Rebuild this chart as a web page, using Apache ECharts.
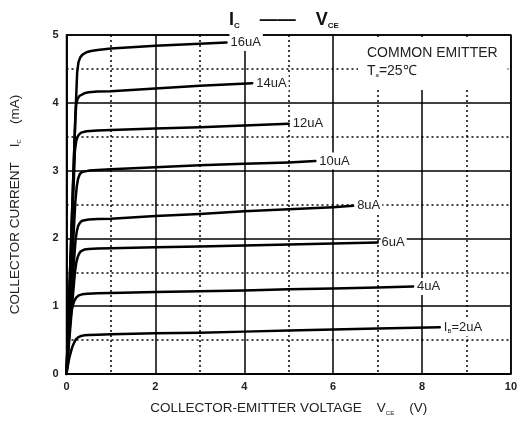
<!DOCTYPE html>
<html><head><meta charset="utf-8">
<script src="https://cdn.jsdelivr.net/npm/echarts@6/dist/echarts.min.js"></script>
<style>html,body{margin:0;padding:0;background:#fff}#c{width:520px;height:421px}</style>
</head><body><div id="c"></div>
<script>
// V_CE (V), I_C (mA) points
const ib2  = [[0,0],[0.03,0.12],[0.06,0.23],[0.1,0.33],[0.13,0.40],[0.17,0.46],[0.21,0.51],[0.26,0.54],[0.32,0.56],[0.4,0.57],[0.5,0.575],[0.7,0.58],[1,0.585],[2,0.60],[3,0.61],[4,0.625],[5,0.64],[6,0.655],[7,0.67],[8.4,0.69]];
const ib4  = [[0,0],[0.03,0.30],[0.06,0.58],[0.096,0.85],[0.13,0.98],[0.17,1.07],[0.22,1.13],[0.28,1.16],[0.35,1.175],[0.47,1.185],[0.7,1.19],[1,1.195],[2,1.21],[3,1.22],[4,1.23],[5,1.25],[6,1.26],[7,1.275],[7.8,1.29]];
const ib6  = [[0,0],[0.05,0.40],[0.1,0.80],[0.15,1.20],[0.19,1.50],[0.22,1.64],[0.25,1.72],[0.28,1.77],[0.32,1.81],[0.4,1.835],[0.5,1.845],[0.7,1.85],[1,1.855],[2,1.87],[3,1.88],[4,1.895],[5,1.91],[6,1.925],[7,1.94]];
const ib8  = [[0,0],[0.05,0.50],[0.1,1.00],[0.15,1.50],[0.2,1.95],[0.23,2.10],[0.26,2.18],[0.3,2.23],[0.35,2.26],[0.5,2.28],[0.7,2.285],[1,2.29],[2,2.33],[3,2.36],[4,2.40],[5,2.43],[6,2.46],[6.45,2.48]];
const ib10 = [[0,0],[0.05,0.65],[0.1,1.30],[0.15,1.95],[0.2,2.55],[0.23,2.76],[0.26,2.88],[0.3,2.95],[0.35,2.98],[0.5,3.00],[0.7,3.01],[1,3.02],[2,3.05],[3,3.08],[4,3.10],[5,3.12],[5.6,3.14]];
const ib12 = [[0,0],[0.05,0.85],[0.1,1.70],[0.15,2.60],[0.19,3.30],[0.22,3.44],[0.25,3.50],[0.28,3.53],[0.33,3.56],[0.45,3.58],[0.7,3.59],[1,3.60],[2,3.62],[3,3.64],[4,3.665],[5,3.69]];
const ib14 = [[0,0],[0.05,0.95],[0.1,1.90],[0.15,2.85],[0.2,3.80],[0.22,3.98],[0.25,4.06],[0.29,4.10],[0.33,4.125],[0.4,4.14],[0.5,4.155],[0.7,4.165],[1,4.17],[2,4.21],[3,4.25],[4.18,4.29]];
const ib16 = [[0,0],[0.05,0.95],[0.1,1.90],[0.15,2.85],[0.2,3.80],[0.24,4.45],[0.27,4.60],[0.31,4.67],[0.36,4.71],[0.45,4.745],[0.55,4.765],[0.7,4.78],[1,4.80],[2,4.84],[3,4.87],[3.6,4.89]];
const curves = [ib2, ib4, ib6, ib8, ib10, ib12, ib14, ib16];
const curveLabels = ['{n|I}{s|B}{n|=2uA}','4uA','6uA','8uA','10uA','12uA','14uA','16uA'];
const xTicks = [0,2,4,6,8,10];
const yTicks = [0,1,2,3,4,5];

const FONT = 'Liberation Sans, Arial, sans-serif';
const chart = echarts.init(document.getElementById('c'));
const series = curves.map((d, i) => ({
  type: 'line',
  data: d,
  smooth: false,
  showSymbol: false,
  silent: true,
  z: 5,
  lineStyle: {color: '#000', width: 2.5, join: 'round', cap: 'round'},
  endLabel: {
    show: true,
    formatter: () => curveLabels[i],
    color: '#222',
    fontFamily: FONT,
    fontSize: 13,
    backgroundColor: '#fff',
    padding: [2, 2, 2, 1],
    distance: 3,
    rich: {
      n: {fontSize: 13, color: '#222', fontFamily: FONT},
      s: {fontSize: 6, color: '#222', fontFamily: FONT, padding: [8, 0, 0, 0]}
    }
  }
}));

chart.setOption({
  animation: false,
  backgroundColor: '#fff',
  title: [{
    text: '{b|I}{s|C}{b|    ——    }{b|V}{s|CE}',
    left: 224,
    top: 5,
    textStyle: {
      rich: {
        b: {fontSize: 18, fontWeight: 'bold', color: '#111', fontFamily: FONT},
        s: {fontSize: 8, fontWeight: 'bold', color: '#111', fontFamily: FONT, padding: [12, 0, 0, 0]}
      }
    }
  }, {
    text: 'COMMON EMITTER\n{n|T}{s|a}{n|=25℃}',
    left: 358,
    top: 37,
    backgroundColor: '#fff',
    padding: [7, 10, 10, 9],
    textStyle: {
      fontSize: 14, fontWeight: 'normal', color: '#222', fontFamily: FONT, lineHeight: 18,
      rich: {
        n: {fontSize: 14, color: '#222', fontFamily: FONT, lineHeight: 18},
        s: {fontSize: 6, color: '#222', fontFamily: FONT, padding: [9, 0, 0, 0]}
      }
    }
  }],
  grid: {left: 66, right: 6, top: 35, bottom: 45, show: true, borderColor: '#000', borderWidth: 1.5, backgroundColor: 'transparent'},
  xAxis: {
    type: 'value', min: xTicks[0], max: xTicks[xTicks.length - 1], interval: 2,
    name: '{n|COLLECTOR-EMITTER VOLTAGE    V}{s|CE}{n|    (V)}',
    nameLocation: 'middle', nameGap: 27,
    nameTextStyle: {
      rich: {
        n: {fontSize: 13.5, color: '#222', fontFamily: FONT},
        s: {fontSize: 6, color: '#222', fontFamily: FONT, padding: [9, 0, 0, 0]}
      }
    },
    axisLine: {lineStyle: {color: '#000', width: 1.5}},
    axisTick: {show: false},
    axisLabel: {color: '#222', fontWeight: 'bold', fontSize: 11, fontFamily: FONT, margin: 7},
    splitLine: {show: true, lineStyle: {color: '#000', width: 1.5}},
    minorTick: {show: false, splitNumber: 2},
    minorSplitLine: {show: true, lineStyle: {color: '#000', width: 1.5, type: [2, 3]}}
  },
  yAxis: {
    type: 'value', min: yTicks[0], max: yTicks[yTicks.length - 1], interval: 1,
    name: '{n|COLLECTOR CURRENT    I}{s|C}{n|    (mA)}',
    nameLocation: 'middle', nameGap: 44, nameRotate: 90,
    nameTextStyle: {
      rich: {
        n: {fontSize: 13.5, color: '#222', fontFamily: FONT},
        s: {fontSize: 6, color: '#222', fontFamily: FONT, padding: [9, 0, 0, 0]}
      }
    },
    axisLine: {lineStyle: {color: '#000', width: 1.5}},
    axisTick: {show: false},
    axisLabel: {color: '#222', fontWeight: 'bold', fontSize: 11, fontFamily: FONT, margin: 8},
    splitLine: {show: true, lineStyle: {color: '#000', width: 1.5}},
    minorTick: {show: false, splitNumber: 2},
    minorSplitLine: {show: true, lineStyle: {color: '#000', width: 1.5, type: [2, 3]}}
  },
  series: series
});
</script></body></html>
